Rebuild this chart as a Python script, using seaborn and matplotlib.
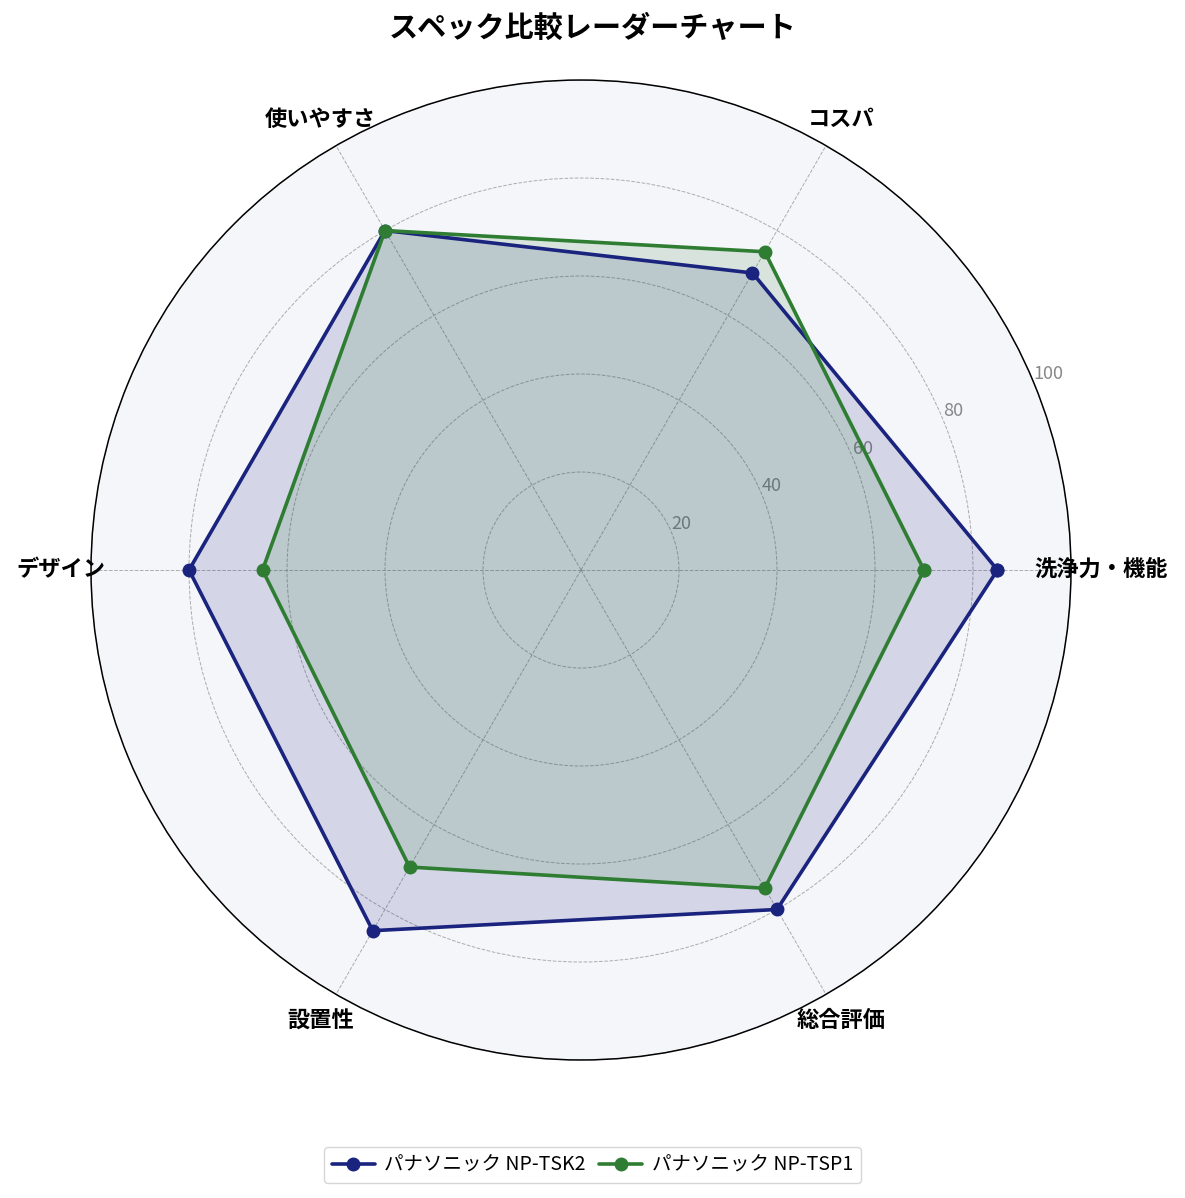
import numpy as np
import pandas as pd
import matplotlib
matplotlib.use("Agg")
import matplotlib.pyplot as plt
import seaborn as sns

categories = ["洗浄力・機能", "コスパ", "使いやすさ", "デザイン", "設置性", "総合評価"]
series_names = ["パナソニック NP-TSK2", "パナソニック NP-TSP1"]
tsk2_values = [85, 70, 80, 80, 85, 80]
tsp1_values = [70, 75, 80, 65, 70, 75]
r_ticks = [20, 40, 60, 80, 100]
r_tick_labels = ["20", "40", "60", "80", "100"]
colors = ["#1a237e", "#2e7d32"]

sns.set_theme(style="white")
plt.rcParams["font.family"] = ["Noto Sans CJK JP", "DejaVu Sans"]

df = pd.DataFrame({"category": categories,
                   series_names[0]: tsk2_values,
                   series_names[1]: tsp1_values})

n = len(categories)
angles = np.linspace(0, 2 * np.pi, n, endpoint=False)
angles_closed = np.concatenate([angles, angles[:1]])

fig = plt.figure(figsize=(11.85, 11.98), dpi=100)
ax = fig.add_axes([0.0768, 0.1152, 0.827, 0.818], projection="polar")
ax.set_facecolor("#f5f6fa")

for name, col in zip(series_names, colors):
    vals = df[name].tolist()
    vals_closed = vals + vals[:1]
    ax.plot(angles_closed, vals_closed, color=col, linewidth=2.6,
            marker="o", markersize=9, label=name)
    ax.fill(angles_closed, vals_closed, color=col, alpha=0.15)

ax.set_ylim(0, 100)
ax.set_yticks(r_ticks)
ax.set_yticklabels(r_tick_labels, color="#888888", fontsize=13)
ax.set_rlabel_position(22.5)
ax.set_xticks(angles)
ax.set_xticklabels(categories, fontsize=16, fontweight="bold", color="black")
ax.tick_params(axis="x", pad=9)
ax.grid(True, color="#999999", linestyle="--", linewidth=0.7, alpha=0.8)
ax.spines["polar"].set_color("black")
ax.spines["polar"].set_linewidth(1.1)

fig.suptitle("スペック比較レーダーチャート", fontsize=21, fontweight="bold",
             color="black", y=1 - 28 / 1198, va="center")

fig.legend(loc="center", bbox_to_anchor=(0.5, 1 - 1165 / 1198), ncol=2,
           fontsize=14, frameon=True, edgecolor="#cccccc", handlelength=2.2,
           handletextpad=0.5, columnspacing=0.7, labelcolor="black")

fig.savefig("out.png", dpi=100, facecolor="white")
